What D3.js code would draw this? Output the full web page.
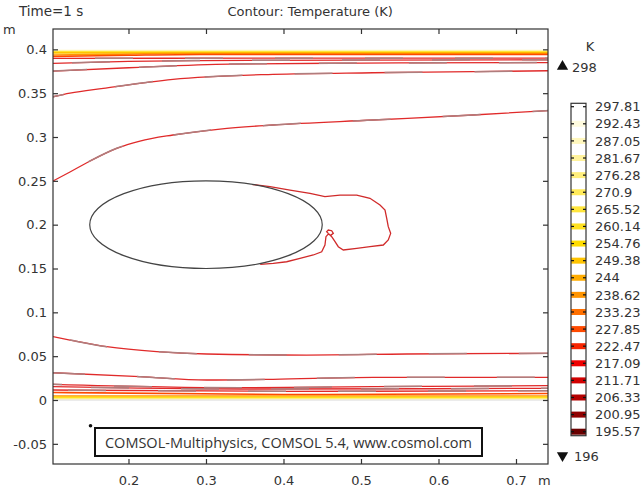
<!DOCTYPE html>
<html><head><meta charset="utf-8">
<script src="https://cdn.jsdelivr.net/npm/d3@7"></script>
<style>
body{margin:0;background:#fff}
svg{display:block}
text{font-family:"DejaVu Sans",sans-serif;fill:#333}
</style>
</head><body>
<svg id="c" width="644" height="489"></svg>
<script>
// ---------- data ----------
const xTicks = [0.2, 0.3, 0.4, 0.5, 0.6, 0.7];
const yTicks = [-0.05, 0, 0.05, 0.1, 0.15, 0.2, 0.25, 0.3, 0.35, 0.4];
const xDomain = [0.1026, 0.7413];
const yDomain = [-0.073, 0.4232];
const levelLabels = [297.81, 292.43, 287.05, 281.67, 276.28, 270.9, 265.52, 260.14, 254.76, 249.38,
                     244, 238.62, 233.23, 227.85, 222.47, 217.09, 211.71, 206.33, 200.95, 195.57];
const tempMax = 298, tempMin = 196;
const ellipseCenter = [0.3, 0.2];
const ellipseRadii = [0.15, 0.05];
const markerPoint = [0.151, -0.0293];

// contour lines near the top wall
const top1 = [[0.1026,0.3989],[0.7413,0.3989]];
const top2 = [[0.1026,0.3978],[0.7413,0.3978]];
const top3 = [[0.1026,0.3969],[0.7413,0.3969]];
const top4 = [[0.1026,0.3960],[0.7413,0.3960]];
const top5 = [[0.1026,0.3935],[0.18,0.3943],[0.2535,0.3952],[0.7413,0.3952]];
const top6 = [[0.1026,0.3918],[0.2,0.3932],[0.2923,0.3941],[0.7413,0.3941]];
const top7 = [[0.1026,0.3897],[0.4,0.3899],[0.7413,0.3899]];
const top8 = [[0.1026,0.3840],[0.2,0.3862],[0.2923,0.3872],[0.5,0.3878],[0.7413,0.3881]];
const top9 = [[0.1026,0.3752],[0.2,0.3790],[0.3310,0.3832],[0.5,0.3843],[0.7413,0.3849]];
const top10 = [[0.1026,0.3459],[0.1245,0.3500],[0.1675,0.3555],[0.2574,0.3658],[0.3865,0.3715],
               [0.5155,0.3733],[0.6445,0.3745],[0.7413,0.3756]];
const top11 = [[0.1026,0.2498],[0.1245,0.2601],[0.1503,0.2726],[0.1848,0.2871],[0.2148,0.2954],
               [0.2574,0.3023],[0.3181,0.3091],[0.3865,0.3137],[0.5155,0.3194],[0.6445,0.3251],[0.7413,0.3302]];
// contour lines near the bottom wall
const bot1 = [[0.1026,0.0722],[0.1245,0.0684],[0.1719,0.0608],[0.2364,0.0551],[0.3009,0.0525],
              [0.4299,0.0513],[0.5590,0.0525],[0.7413,0.0533]];
const bot2 = [[0.1026,0.0311],[0.2148,0.0266],[0.3009,0.0228],[0.3865,0.0236],[0.5155,0.0259],[0.7413,0.0259]];
const bot3 = [[0.1026,0.0179],[0.3439,0.0140],[0.5155,0.0152],[0.7413,0.0163]];
const bot4 = [[0.1026,0.0152],[0.3439,0.0125],[0.7413,0.0133]];
const bot5 = [[0.1026,0.0114],[0.4,0.0099],[0.7413,0.0106]];
const bot6 = [[0.1026,0.0086],[0.4,0.0063],[0.7413,0.0074]];
const bot7 = [[0.1026,0.0046],[0.7413,0.0046]];
const bot8 = [[0.1026,0.0031],[0.7413,0.0031]];
const bot9 = [[0.1026,0.0017],[0.7413,0.0017]];
// contour in the wake of the ellipse
const wake = [[0.36,0.2458],[0.3826,0.2433],[0.4084,0.2395],[0.4342,0.2358],[0.4535,0.2319],[0.4729,0.2338],
  [0.4945,0.2338],[0.5116,0.2301],[0.5245,0.2224],[0.5310,0.2167],[0.5332,0.2072],[0.5352,0.1977],
  [0.5383,0.1901],[0.5352,0.1825],[0.5288,0.1768],[0.5116,0.1749],[0.4945,0.1730],[0.4772,0.1711],
  [0.4707,0.1749],[0.4665,0.1806],[0.4622,0.1863],[0.4578,0.1901],[0.4557,0.1920],[0.4578,0.1939],
  [0.4622,0.1931],[0.4643,0.1901],[0.4609,0.1878],[0.4578,0.1893],[0.4548,0.1863],[0.4535,0.1768],
  [0.4493,0.1691],[0.4385,0.1654],[0.4213,0.1616],[0.4041,0.1577],[0.3868,0.1559],[0.3700,0.1548]];

const contourLines = [top1, top2, top3, top4, top5, top6, top7, top8, top9, top10, top11,
                      bot1, bot2, bot3, bot4, bot5, bot6, bot7, bot8, bot9, wake];
const contourLevels = [292.43, 276.28, 260.14, 249.38, 238.62, 227.85, 222.47, 217.09, 211.71, 206.33, 200.95,
                       200.95, 206.33, 211.71, 217.09, 222.47, 227.85, 238.62, 254.76, 276.28, 200.95];

// ---------- drawing ----------
const svg = d3.select("#c");
const L = 53, R = 548, T = 29, B = 464;
const x = d3.scaleLinear().domain(xDomain).range([L, R]);
const y = d3.scaleLinear().domain(yDomain).range([B, T]);

const color = d3.scaleLinear()
  .domain([195.57, 206.33, 217.09, 227.85, 238.62, 254.76, 270.9, 297.81])
  .range(["#6a0000", "#b40000", "#ee0000", "#ff4a00", "#ff9400", "#ffdc00", "#ffea5a", "#ffffff"]);
const lineColor = v => v >= 227 ? color(v) : "#e02a2a";

// plot clip
svg.append("clipPath").attr("id", "pc").append("rect")
  .attr("x", L).attr("y", T).attr("width", R - L).attr("height", B - T);
const plot = svg.append("g").attr("clip-path", "url(#pc)");

// wall line
plot.append("line").attr("x1", L).attr("x2", R).attr("y1", y(0)).attr("y2", y(0))
  .attr("stroke", "#d8d8d8").attr("stroke-width", 1.2);

const line = d3.line().x(d => x(d[0])).y(d => y(d[1])).curve(d3.curveMonotoneX);
const lineLin = d3.line().x(d => x(d[0])).y(d => y(d[1])).curve(d3.curveLinear);

contourLines.forEach((pts, i) => {
  const lev = contourLevels[i];
  const gen = pts === wake ? lineLin : line;
  plot.append("path").attr("d", gen(pts)).attr("fill", "none")
    .attr("stroke", pts === wake ? "#d02a2a" : lineColor(lev)).attr("stroke-width", lev >= 227 ? 1.6 : 1.3);
  if (lev < 227 && pts !== wake) {
    plot.append("path").attr("d", gen(pts)).attr("fill", "none")
      .attr("stroke", "#b07d7d").attr("stroke-width", 1.5)
      .attr("stroke-dasharray", "38 52").attr("stroke-dashoffset", i * 23);
  }
});
// ellipse
plot.append("ellipse")
  .attr("cx", x(ellipseCenter[0])).attr("cy", y(ellipseCenter[1]))
  .attr("rx", x(ellipseCenter[0] + ellipseRadii[0]) - x(ellipseCenter[0]))
  .attr("ry", y(ellipseCenter[1]) - y(ellipseCenter[1] + ellipseRadii[1]))
  .attr("fill", "none").attr("stroke", "#444").attr("stroke-width", 1.2);

// marker point
svg.append("circle").attr("cx", x(markerPoint[0])).attr("cy", y(markerPoint[1]))
  .attr("r", 1.8).attr("fill", "#111");

// axes with inward ticks
const fmt = d => String(d);
const gL = svg.append("g").attr("transform", `translate(${L},0)`)
  .call(d3.axisLeft(y).tickValues(yTicks).tickSize(-5).tickPadding(6).tickFormat(fmt));
const gR = svg.append("g").attr("transform", `translate(${R},0)`)
  .call(d3.axisRight(y).tickValues(yTicks).tickSize(-5).tickFormat(""));
const gT = svg.append("g").attr("transform", `translate(0,${T})`)
  .call(d3.axisTop(x).tickValues(xTicks).tickSize(-5).tickFormat(""));
const gB = svg.append("g").attr("transform", `translate(0,${B})`)
  .call(d3.axisBottom(x).tickValues(xTicks).tickSize(-5).tickPadding(12).tickFormat(fmt));
[gL, gR, gT, gB].forEach(g => {
  g.select(".domain").remove();
  g.selectAll(".tick line").attr("stroke", "#333").attr("stroke-width", 1.2);
  g.selectAll(".tick text").attr("fill", "#333").style("font-size", "13px")
    .style("font-family", "'DejaVu Sans', sans-serif");
});

svg.append("rect").attr("x", L).attr("y", T).attr("width", R - L).attr("height", B - T)
  .attr("fill", "none").attr("stroke", "#333").attr("stroke-width", 1.2);

// annotation box
svg.append("rect").attr("x", 95).attr("y", 428).attr("width", 387).attr("height", 28)
  .attr("fill", "#fff").attr("stroke", "#111").attr("stroke-width", 2);
svg.append("text").attr("x", 288.5).attr("y", 447.5).attr("text-anchor", "middle")
  .style("font-family", "'Open Sans', sans-serif").style("font-size", "14.5px")
  .text("COMSOL-Multiphysics, COMSOL 5.4, www.cosmol.com");

// titles and unit labels
svg.append("text").attr("x", 19).attr("y", 16).style("font-size", "13.5px").text("Time=1 s");
svg.append("text").attr("x", 227.5).attr("y", 16)
  .style("font-size", "13px").text("Contour: Temperature (K)");
svg.append("text").attr("x", 3).attr("y", 34).style("font-size", "13px").text("m");
svg.append("text").attr("x", 538).attr("y", 485).style("font-size", "13px").text("m");

// colour legend
const cb = d3.scaleLinear().domain([195.57, 297.81]).range([431.7, 106.7]);
const cbX = 571, cbW = 15;
svg.append("text").attr("x", 590).attr("y", 51).attr("text-anchor", "middle")
  .style("font-size", "13px").text("K");
svg.append("path").attr("d", d3.symbol(d3.symbolTriangle, 55)())
  .attr("transform", "translate(562.5,66.5)").attr("fill", "#111");
svg.append("text").attr("x", 572).attr("y", 71.5).style("font-size", "13px").text(tempMax);
svg.append("path").attr("d", d3.symbol(d3.symbolTriangle, 55)())
  .attr("transform", "translate(562.5,455.5) rotate(180)").attr("fill", "#111");
svg.append("text").attr("x", 574).attr("y", 461).style("font-size", "13px").text(tempMin);

svg.selectAll("rect.stripe").data(levelLabels).join("rect").attr("class", "stripe")
  .attr("x", cbX).attr("width", cbW).attr("y", d => cb(d) - 3).attr("height", 6)
  .attr("fill", d => color(d));
svg.append("rect").attr("x", cbX).attr("y", 103.3).attr("width", cbW).attr("height", 332.4)
  .attr("fill", "none").attr("stroke", "#333").attr("stroke-width", 1.2);
levelLabels.forEach(v => {
  svg.append("line").attr("x1", cbX).attr("x2", cbX + 3).attr("y1", cb(v)).attr("y2", cb(v))
    .attr("stroke", "#111").attr("stroke-width", 1.2);
  svg.append("line").attr("x1", cbX + cbW - 3).attr("x2", cbX + cbW).attr("y1", cb(v)).attr("y2", cb(v))
    .attr("stroke", "#111").attr("stroke-width", 1.2);
});
svg.selectAll("text.cbl").data(levelLabels).join("text").attr("class", "cbl")
  .attr("x", 595).attr("y", d => cb(d)).attr("dy", "0.36em")
  .style("font-size", "13px").text(d => d);
</script>
</body></html>
